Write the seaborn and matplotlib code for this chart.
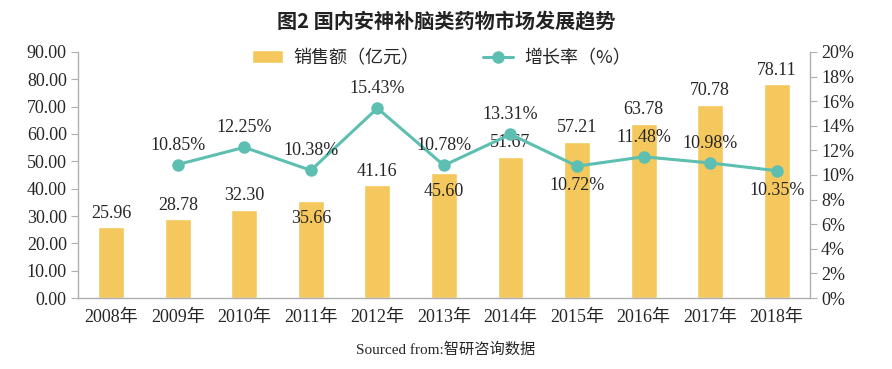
import numpy as np
import pandas as pd
import matplotlib
matplotlib.use('Agg')
import matplotlib.pyplot as plt
from matplotlib.ticker import FuncFormatter, MultipleLocator, FixedLocator
import seaborn as sns

years = ['2008年', '2009年', '2010年', '2011年', '2012年', '2013年',
         '2014年', '2015年', '2016年', '2017年', '2018年']
sales = [25.96, 28.78, 32.30, 35.66, 41.16, 45.60, 51.67, 57.21, 63.78, 70.78, 78.11]
growth = [np.nan, 10.85, 12.25, 10.38, 15.43, 10.78, 13.31, 10.72, 11.48, 10.98, 10.35]
# where each value label sits: 1 = above the mark, -1 = below
sales_side = [1, 1, 1, -1, 1, -1, 1, 1, 1, 1, 1]
growth_side = [1, 1, 1, 1, 1, 1, 1, -1, 1, 1, -1]

sns.set_style('white')
plt.rcParams['font.family'] = ['Liberation Serif', 'Noto Sans CJK SC', 'DejaVu Sans']

bar_color = '#F5C85E'
line_color = '#5DBFB1'
grey = '#AFAFAF'
txt = '#262626'

df = pd.DataFrame({'year': years, 'sales': sales, 'growth': growth})
df['pos'] = np.arange(len(df))

fig = plt.figure(figsize=(8.92, 3.69), dpi=100)
ax = fig.add_axes([0.0874, 0.1924, 0.8206, 0.6667])

sns.barplot(data=df, x='pos', y='sales', color=bar_color, width=0.39,
            saturation=1, ax=ax, label='销售额（亿元）')
if ax.get_legend() is not None:
    ax.get_legend().remove()
ax.set_xlim(-0.5, len(df) - 0.5)
ax.set_ylim(0, 90)
ax.yaxis.set_major_locator(MultipleLocator(10))
ax.yaxis.set_major_formatter(FuncFormatter(lambda v, p: f'{v:.2f}'))
ax.set_xticks(df['pos'])
ax.set_xticklabels(years)
ax.xaxis.set_minor_locator(FixedLocator(np.arange(-0.5, len(df), 1.0)))
ax.tick_params(axis='x', which='major', length=0, pad=8, labelsize=13, labelcolor=txt)
ax.tick_params(axis='x', which='minor', length=5, color=grey, direction='out')
ax.tick_params(axis='y', length=5, color=grey, labelsize=13, labelcolor=txt, pad=3)
ax.set_xlabel('')
ax.set_ylabel('')

for i, (v, s) in enumerate(zip(sales, sales_side)):
    ax.annotate(f'{v:.2f}', (i, v), xytext=(0, 10 if s > 0 else -13),
                textcoords='offset points', ha='center', va='center',
                fontsize=13, color=txt)

ax2 = ax.twinx()
gdf = df.dropna()
sns.lineplot(data=gdf, x='pos', y='growth', color=line_color, linewidth=2.2,
             marker='o', markersize=9, markeredgewidth=0, ax=ax2,
             label='增长率（%）', legend=False)
if ax2.get_legend() is not None:
    ax2.get_legend().remove()
ax2.set_ylim(0, 20)
ax2.yaxis.set_major_locator(MultipleLocator(2))
ax2.yaxis.set_major_formatter(FuncFormatter(lambda v, p: f'{v:.0f}%'))
ax2.tick_params(axis='y', length=5, color=grey, labelsize=13, labelcolor=txt, pad=3)
ax2.set_xlabel('')
ax2.set_ylabel('')
ax2.set_xlim(-0.5, len(df) - 0.5)

for i, v, s in zip(gdf['pos'], gdf['growth'], np.array(growth_side)[gdf['pos']]):
    ax2.annotate(f'{v:.2f}%', (i, v), xytext=(0, 14 if s > 0 else -14),
                 textcoords='offset points', ha='center', va='center',
                 fontsize=13, color=txt)

for a in (ax, ax2):
    a.spines['top'].set_visible(False)
    for side in ('left', 'right', 'bottom'):
        a.spines[side].set_color(grey)
        a.spines[side].set_linewidth(1.0)
ax.spines['right'].set_visible(False)
ax2.spines['left'].set_visible(False)
ax2.spines['bottom'].set_visible(False)

h1, l1 = ax.get_legend_handles_labels()
h2, l2 = ax2.get_legend_handles_labels()
leg = fig.legend(h1 + h2, l1 + l2, ncol=2, loc='center', bbox_to_anchor=(0.495, 0.843),
                 frameon=False, handlelength=1.7, handleheight=0.7,
                 columnspacing=3.5, handletextpad=0.6,
                 prop={'family': ['Noto Sans CJK SC'], 'size': 13})
for t in leg.get_texts():
    t.set_color(txt)

fig.text(0.5, 0.94, '图2 国内安神补脑类药物市场发展趋势', ha='center', va='center',
         fontsize=14.5, fontweight='bold', color='#222222',
         family=['Noto Sans CJK SC'])
fig.text(0.5, 0.052, 'Sourced from:智研咨询数据', ha='center', va='center',
         fontsize=11, color=txt, family=['Liberation Serif', 'Noto Sans CJK SC'])

fig.savefig('out.png', dpi=100)
